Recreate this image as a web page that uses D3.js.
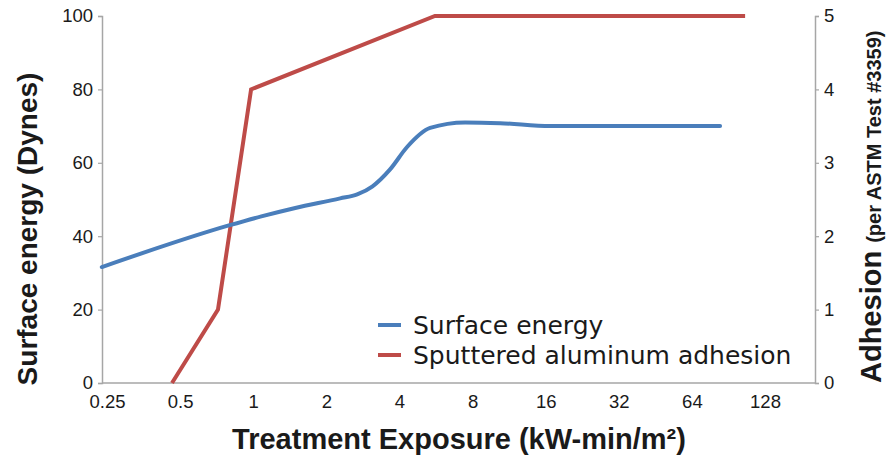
<!DOCTYPE html>
<html>
<head>
<meta charset="utf-8">
<script src="https://cdn.jsdelivr.net/npm/d3@7"></script>
<style>
  body { margin: 0; background: #fff; }
  text { font-family: "Liberation Sans", Arial, sans-serif; fill: #1a1a1a; }
</style>
</head>
<body>
<div id="vis"></div>
<script>
// x in kW-min/m^2, surface energy in dynes, adhesion 0-5
var xTicks = [0.25, 0.5, 1, 2, 4, 8, 16, 32, 64, 128];
var leftTicks = [0, 20, 40, 60, 80, 100];
var rightTicks = [0, 1, 2, 3, 4, 5];

var energyX = [0.238, 0.80, 1.08, 1.49, 2.28, 2.68, 3.1, 3.66, 4.3, 5.35, 7.45, 10.4, 16.7, 83.6];
var energyY = [31.6, 43.0, 45.4, 47.7, 50.3, 51.4, 53.6, 58.2, 64.3, 69.5, 71.0, 70.8, 70.0, 70.0];

var adhesionX = [0.463, 0.716, 0.98, 5.6, 106];
var adhesionY = [0, 1, 4, 5, 5];

var seriesNames = ["Surface energy", "Sputtered aluminum adhesion"];
var seriesColors = ["#4a7ebb", "#be4b48"];

var width = 887, height = 457;
var plotLeft = 102, plotRight = 815, plotTop = 16, plotBottom = 383;

var svg = d3.select("#vis").append("svg")
    .attr("width", width)
    .attr("height", height);

var xScale = d3.scaleLog().base(2)
    .domain([0.25, 128])
    .range([107, 765]);

var yLeft = d3.scaleLinear().domain([0, 100]).range([plotBottom, plotTop]);
var yRight = d3.scaleLinear().domain([0, 5]).range([plotBottom, plotTop]);

// axes
var xAxis = svg.append("g")
    .attr("transform", "translate(0," + plotBottom + ")")
    .call(d3.axisBottom(xScale).tickValues(xTicks).tickSize(0).tickPadding(12)
        .tickFormat(function(d) { return String(d); }));
xAxis.select(".domain").remove();

svg.append("line")
    .attr("x1", plotLeft).attr("x2", plotRight)
    .attr("y1", plotBottom).attr("y2", plotBottom)
    .attr("stroke", "#a6a6a6").attr("stroke-width", 1.5);

var yAxisL = svg.append("g")
    .attr("transform", "translate(" + plotLeft + ",0)")
    .call(d3.axisLeft(yLeft).tickValues(leftTicks).tickSize(4).tickPadding(5));
var yAxisR = svg.append("g")
    .attr("transform", "translate(" + plotRight + ",0)")
    .call(d3.axisRight(yRight).tickValues(rightTicks).tickSize(4).tickPadding(5)
        .tickFormat(d3.format("d")));

[yAxisL, yAxisR].forEach(function(a) {
    a.select(".domain").attr("stroke", "#a6a6a6").attr("stroke-width", 1.5);
    a.selectAll(".tick line").attr("stroke", "#a6a6a6").attr("stroke-width", 1.2);
});
[xAxis, yAxisL, yAxisR].forEach(function(a) {
    a.attr("font-size", null).attr("font-family", null);
    a.selectAll("text").attr("font-size", 18.5).attr("fill", "#1a1a1a");
});

// lines
var energyData = energyX.map(function(x, i) { return [x, energyY[i]]; });
var adhesionData = adhesionX.map(function(x, i) { return [x, adhesionY[i]]; });

var energyLine = d3.line()
    .x(function(d) { return xScale(d[0]); })
    .y(function(d) { return yLeft(d[1]); })
    .curve(d3.curveMonotoneX);

var adhesionLine = d3.line()
    .x(function(d) { return xScale(d[0]); })
    .y(function(d) { return yRight(d[1]); });

svg.append("path").datum(adhesionData)
    .attr("d", adhesionLine)
    .attr("fill", "none").attr("stroke", seriesColors[1])
    .attr("stroke-width", 4).attr("stroke-linejoin", "miter");

svg.append("path").datum(energyData)
    .attr("d", energyLine)
    .attr("fill", "none").attr("stroke", seriesColors[0])
    .attr("stroke-width", 4).attr("stroke-linecap", "round");

// legend
var legend = svg.append("g").attr("transform", "translate(378,325)");
legend.selectAll("g")
    .data(seriesNames)
    .enter().append("g")
    .attr("transform", function(d, i) { return "translate(0," + (i * 30) + ")"; })
    .each(function(d, i) {
        var g = d3.select(this);
        g.append("line").attr("x1", 0).attr("x2", 23).attr("y1", 0).attr("y2", 0)
            .attr("stroke", seriesColors[i]).attr("stroke-width", 4);
        g.append("text").attr("x", 35).attr("y", 9)
            .style("font-family", "'DejaVu Sans', sans-serif")
            .attr("font-size", 25).text(d);
    });

// titles
svg.append("text")
    .attr("x", 459).attr("y", 449)
    .attr("text-anchor", "middle")
    .attr("font-size", 29).attr("font-weight", "bold")
    .text("Treatment Exposure (kW-min/m²)");

svg.append("text")
    .attr("transform", "translate(37,229)rotate(-90)")
    .attr("text-anchor", "middle")
    .attr("font-size", 28).attr("font-weight", "bold")
    .text("Surface energy (Dynes)");

var rt = svg.append("text")
    .attr("transform", "translate(881,383)rotate(-90)")
    .attr("text-anchor", "start")
    .attr("font-weight", "bold");
rt.append("tspan").attr("font-size", 29).text("Adhesion ");
rt.append("tspan").attr("font-size", 20).text("(per ASTM Test #3359)");
</script>
</body>
</html>
